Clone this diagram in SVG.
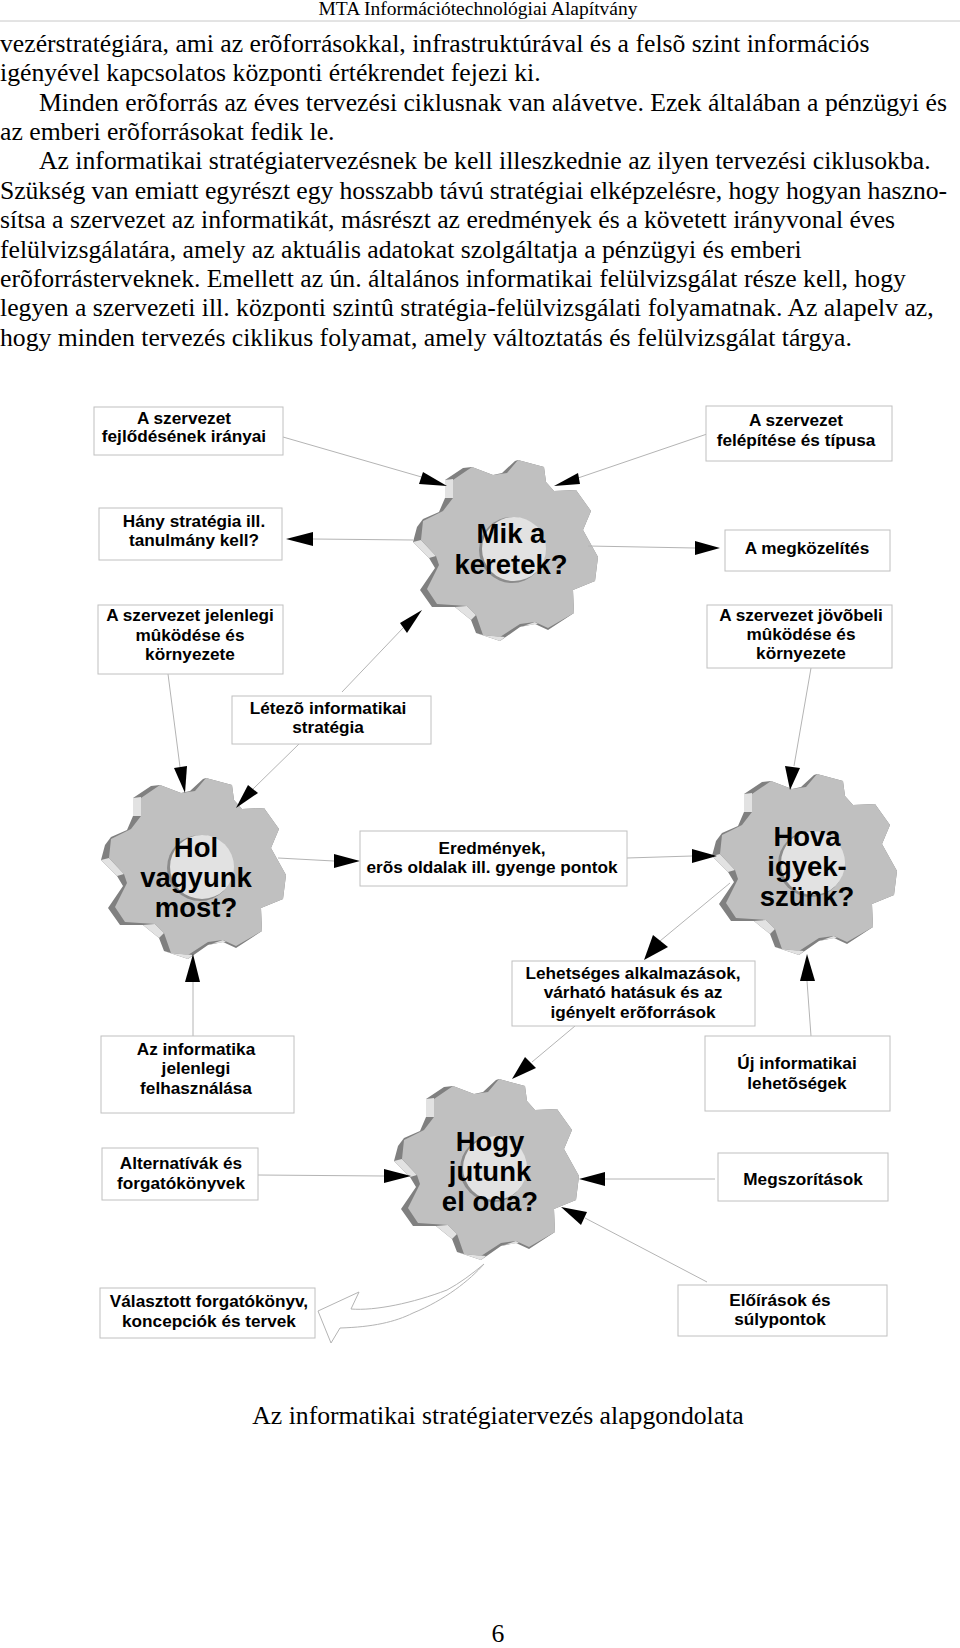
<svg xmlns="http://www.w3.org/2000/svg" width="960" height="1648" viewBox="0 0 960 1648">
<style>
text{fill:#000}
.b{font:25.7px "Liberation Serif",serif}
.l{font:bold 17.2px "Liberation Sans",Arial,sans-serif;text-anchor:middle}
.g{font:bold 27.5px "Liberation Sans",Arial,sans-serif;text-anchor:middle}
.box{fill:#fff;stroke:#c0c0c0;stroke-width:1}
.c line,.c path{stroke:#b4b4b4;stroke-width:1;fill:none}
.c polygon{fill:#000}
</style>
<defs>
<g id="gear">
<polygon fill="#808080" points="118,10 144,17 146,32 154,41 176,40 191,61 183,80 198,107 195,131 173,140 174,163 148,180 135,174 120,177 100,191 76,183 71,170 55,157 32,157 20,140 35,118 29,108 13,92 17,77 23,69 39,62 45,48 45,30 63,18 72,17 93,25 102,23 115,11"/>
<polygon fill="#e2e2e2" points="45,30 53,29 53,48 45,48"/>
<polygon fill="#e2e2e2" points="13,92 21,90 36,106 29,108"/>
<polygon fill="#e2e2e2" points="55,157 67,156 76,165 71,170"/>
<polygon fill="#e2e2e2" points="76,183 83,185 105,187 100,191"/>
<polygon fill="#e2e2e2" points="120,177 135,172 138,174 122,176"/>
<polygon fill="#c0c0c0" points="118,10 144,17 146,32 154,41 176,40 191,61 183,80 198,107 195,131 173,140 174,163 148,178 135,172 120,174 100,187 83,185 76,165 67,156 37,154 27,139 39,115 36,106 21,90 23,71 43,61 53,48 53,30 72,17 93,25 107,23"/>
<circle cx="112" cy="100" r="33" fill="#8c8c8c"/>
<circle cx="114" cy="99" r="32" fill="#e2e2e2"/>
</g>
</defs>
<g id="header">
<text x="478" y="15" style="font:19.5px 'Liberation Serif',serif" text-anchor="middle">MTA Információtechnológiai Alapítvány</text>
<line x1="0" y1="21" x2="960" y2="21" stroke="#c8c8c8" stroke-width="1"/>
</g>
<g id="body" class="b">
<text x="0" y="52">vezérstratégiára, ami az erõforrásokkal, infrastruktúrával és a felsõ szint információs</text>
<text x="0" y="81">igényével kapcsolatos központi értékrendet fejezi ki.</text>
<text x="39" y="111">Minden erõforrás az éves tervezési ciklusnak van alávetve. Ezek általában a pénzügyi és</text>
<text x="0" y="140">az emberi erõforrásokat fedik le.</text>
<text x="39" y="169">Az informatikai stratégiatervezésnek be kell illeszkednie az ilyen tervezési ciklusokba.</text>
<text x="0" y="199" textLength="947">Szükség van emiatt egyrészt egy hosszabb távú stratégiai elképzelésre, hogy hogyan haszno-</text>
<text x="0" y="228">sítsa a szervezet az informatikát, másrészt az eredmények és a követett irányvonal éves</text>
<text x="0" y="258">felülvizsgálatára, amely az aktuális adatokat szolgáltatja a pénzügyi és emberi</text>
<text x="0" y="287">erõforrásterveknek. Emellett az ún. általános informatikai felülvizsgálat része kell, hogy</text>
<text x="0" y="316">legyen a szervezeti ill. központi szintû stratégia-felülvizsgálati folyamatnak. Az alapelv az,</text>
<text x="0" y="346">hogy minden tervezés ciklikus folyamat, amely változtatás és felülvizsgálat tárgya.</text>
</g>
<use id="gear1" href="#gear" x="400" y="450"/>
<use id="gear2" href="#gear" x="88" y="768"/>
<use id="gear3" href="#gear" x="699" y="764"/>
<use id="gear4" href="#gear" x="381" y="1069"/>
<g id="connectors" class="c">
<line x1="283" y1="437" x2="425" y2="478"/><polygon points="447,486 419,484 423,472"/>
<line x1="707" y1="434" x2="578" y2="478"/><polygon points="554,486 580,484 578,473"/>
<line x1="413" y1="540" x2="313" y2="539"/><polygon points="286,539 313,532 313,546"/>
<line x1="588" y1="546" x2="695" y2="548"/><polygon points="720,548 695,541 695,555"/>
<line x1="342" y1="692" x2="403" y2="628"/><polygon points="422,610 400,623 407,633"/>
<line x1="168" y1="674" x2="180" y2="767"/><polygon points="185,793 174,768 187,766"/>
<line x1="300" y1="743" x2="253" y2="789"/><polygon points="236,808 248,785 258,793"/>
<line x1="278" y1="858" x2="334" y2="861"/><polygon points="360,861 334,854 334,868"/>
<line x1="627" y1="858" x2="692" y2="856"/><polygon points="717,856 692,849 692,863"/>
<line x1="811" y1="668" x2="794" y2="766"/><polygon points="790,790 785,766 800,768"/>
<line x1="730" y1="883" x2="660" y2="941"/><polygon points="644,960 653,935 668,947"/>
<line x1="811" y1="1036" x2="807" y2="981"/><polygon points="807,954 800,981 815,981"/>
<line x1="193" y1="1036" x2="193" y2="982"/><polygon points="193,954 185,982 200,982"/>
<line x1="258" y1="1175" x2="384" y2="1176"/><polygon points="411,1176 384,1169 384,1183"/>
<line x1="715" y1="1179" x2="605" y2="1179"/><polygon points="579,1179 605,1172 605,1186"/>
<line x1="707" y1="1282" x2="585" y2="1218"/><polygon points="561,1207 587,1212 581,1225"/>
<line x1="575" y1="1026" x2="532" y2="1062"/><polygon points="512,1079 525,1057 536,1068"/>
<path fill="#fff" d="M318,1311 L359,1292 L351,1309 C375,1311 413,1303 447,1290 C460,1283 472,1274 484,1264 C470,1280 445,1300 413,1313 C395,1322 373,1327 340,1328 L331,1343 Z"/>
</g>
<g id="n1"><rect class="box" x="94" y="407" width="189" height="48"/><text class="l" x="184" y="424">A szervezet</text><text class="l" x="184" y="442">fejlődésének irányai</text></g>
<g id="n2"><rect class="box" x="706" y="406" width="186" height="55"/><text class="l" x="796" y="426">A szervezet</text><text class="l" x="796" y="446">felépítése és típusa</text></g>
<g id="n3"><rect class="box" x="99" y="508" width="183" height="52"/><text class="l" x="194" y="527">Hány stratégia ill.</text><text class="l" x="194" y="546">tanulmány kell?</text></g>
<g id="n4"><rect class="box" x="725" y="530" width="165" height="41"/><text class="l" x="807" y="554">A megközelítés</text></g>
<g id="n5"><rect class="box" x="98" y="605" width="185" height="69"/><text class="l" x="190" y="621">A szervezet jelenlegi</text><text class="l" x="190" y="641">mûködése és</text><text class="l" x="190" y="660">környezete</text></g>
<g id="n6"><rect class="box" x="707" y="605" width="185" height="63"/><text class="l" x="801" y="621">A szervezet jövõbeli</text><text class="l" x="801" y="640">mûködése és</text><text class="l" x="801" y="659">környezete</text></g>
<g id="n7"><rect class="box" x="232" y="696" width="199" height="48"/><text class="l" x="328" y="714">Létezõ informatikai</text><text class="l" x="328" y="733">stratégia</text></g>
<g id="n8"><rect class="box" x="360" y="831" width="267" height="55"/><text class="l" x="492" y="854">Eredmények,</text><text class="l" x="492" y="873">erõs oldalak ill. gyenge pontok</text></g>
<g id="n9"><rect class="box" x="512" y="961" width="243" height="65"/><text class="l" x="633" y="979">Lehetséges alkalmazások,</text><text class="l" x="633" y="998">várható hatásuk és az</text><text class="l" x="633" y="1018">igényelt erõforrások</text></g>
<g id="n10"><rect class="box" x="101" y="1036" width="193" height="77"/><text class="l" x="196" y="1055">Az informatika</text><text class="l" x="196" y="1074">jelenlegi</text><text class="l" x="196" y="1094">felhasználása</text></g>
<g id="n11"><rect class="box" x="705" y="1036" width="185" height="75"/><text class="l" x="797" y="1069">Új informatikai</text><text class="l" x="797" y="1089">lehetõségek</text></g>
<g id="n12"><rect class="box" x="102" y="1148" width="156" height="52"/><text class="l" x="181" y="1169">Alternatívák és</text><text class="l" x="181" y="1189">forgatókönyvek</text></g>
<g id="n13"><rect class="box" x="718" y="1153" width="170" height="48"/><text class="l" x="803" y="1185">Megszorítások</text></g>
<g id="n14"><rect class="box" x="100" y="1288" width="215" height="50"/><text class="l" x="209" y="1307">Választott forgatókönyv,</text><text class="l" x="209" y="1327">koncepciók és tervek</text></g>
<g id="n15"><rect class="box" x="678" y="1285" width="209" height="51"/><text class="l" x="780" y="1306">Előírások és</text><text class="l" x="780" y="1325">súlypontok</text></g>
<g id="labels" class="g">
<text x="511" y="543">Mik a</text><text x="511" y="574">keretek?</text>
<text x="196" y="857">Hol</text><text x="196" y="887">vagyunk</text><text x="196" y="917">most?</text>
<text x="807" y="846">Hova</text><text x="807" y="876">igyek-</text><text x="807" y="906">szünk?</text>
<text x="490" y="1151">Hogy</text><text x="490" y="1181">jutunk</text><text x="490" y="1211">el oda?</text>
</g>
<g id="footer">
<text x="498" y="1424" style="font:25.7px 'Liberation Serif',serif" text-anchor="middle">Az informatikai stratégiatervezés alapgondolata</text>
<text x="498" y="1642" style="font:25.7px 'Liberation Serif',serif" text-anchor="middle">6</text>
</g>
</svg>
